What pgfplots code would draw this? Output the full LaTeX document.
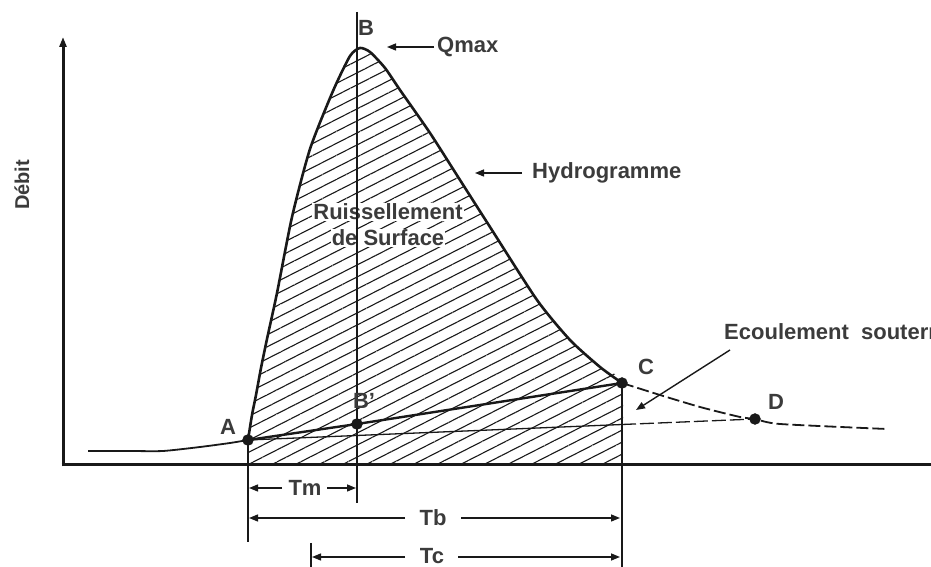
\documentclass[border=0pt]{standalone}
\usepackage{fontspec}
\setmainfont{Liberation Sans}
\usepackage{pgfplots}
\pgfplotsset{compat=1.18}
\usetikzlibrary{arrows.meta,patterns.meta}
\definecolor{ink}{RGB}{25,25,25}
\tikzset{
  lbl/.style={font=\fontsize{22}{26}\selectfont\bfseries, text=ink!85, inner sep=0pt},
  dim/.style={line width=1.4pt, draw=ink, -{Triangle[length=9pt,width=7pt]}},
}

\begin{document}
\begin{tikzpicture}
\begin{axis}[
  x=1pt, y=1pt,
  xmin=0, xmax=931, ymin=0, ymax=567,
  hide axis, clip=false,
]
\coordinate (bl) at (axis cs:0,0);
\coordinate (tr) at (axis cs:931,567);

% surface runoff (hatched)
\addplot[draw=none, smooth, tension=0.4,
  pattern={Lines[angle=27,distance=10.7pt,line width=1.1pt]}, pattern color=ink]
  coordinates {(248,102)(248,127)(252,152)(256,172)(261,199)(267,228)(277,274)(292,350)(310,418)(333,476)(350,511)(360,519)
               (370,515)(385,499)(400,477)(430,434)(460,387)(490,340)(537,267)(570,227)(600,200)(622,184)(622,102)} --cycle;

% hydrograph, solid part
\addplot[ink, line width=2.6pt, smooth, tension=0.4]
  coordinates {(248,127)(252,152)(256,172)(261,199)(267,228)(277,274)(292,350)(310,418)(333,476)(350,511)(360,519)
               (370,515)(385,499)(400,477)(430,434)(460,387)(490,340)(537,267)(570,227)(600,200)(622,184)};
% rising from base flow
\addplot[ink, line width=1.8pt, smooth, tension=0.4]
  coordinates {(88,116)(130,116)(163,116)(200,120)(230,124)(248,127)};
% recession, dashed
\addplot[ink, line width=1.8pt, dash pattern=on 12pt off 4pt, smooth, tension=0.4]
  coordinates {(622,184)(660,172)(700,160)(740,150)(755,148)(780,143)(887,138)};

% base flow separation A-B'-C
\addplot[ink, line width=2.4pt] coordinates {(248,127)(357,143)(622,184)};
% A-D line
\addplot[ink, line width=1.3pt] coordinates {(248,127)(622,142.5)};
\addplot[ink, line width=1.3pt, dash pattern=on 14pt off 4pt] coordinates {(622,142.5)(755,148)};

% points A, B', C, D
\addplot[only marks, mark=*, mark size=5.5pt, color=ink] coordinates {(248,127)(357,143)(622,184)(755,148)};

% axes
\draw[ink, line width=3pt, -{Triangle[length=10pt,width=7pt]}] (axis cs:63,100.5) -- (axis cs:63,530);
\draw[ink, line width=3pt] (axis cs:61.5,102) -- (axis cs:945,102);

% vertical guides
\draw[ink, line width=2pt] (axis cs:248,127) -- (axis cs:248,25);
\draw[ink, line width=1.4pt] (axis cs:357,555) -- (axis cs:357,64);
\draw[ink, line width=2.6pt] (axis cs:622,184) -- (axis cs:622,-5);
\draw[ink, line width=2pt] (axis cs:311,24) -- (axis cs:311,-5);

% time spans
\draw[dim] (axis cs:282,79) -- (axis cs:249,79);
\draw[dim] (axis cs:327,79) -- (axis cs:356,79);
\node[lbl] at (axis cs:305,79) {Tm};
\draw[dim] (axis cs:405,49) -- (axis cs:249,49);
\draw[dim] (axis cs:461,49) -- (axis cs:620,49);
\node[lbl] at (axis cs:433,49) {Tb};
\draw[dim] (axis cs:405,10) -- (axis cs:312,10);
\draw[dim] (axis cs:458,10) -- (axis cs:620,10);
\node[lbl] at (axis cs:432,11) {Tc};

% labels
\node[lbl] at (axis cs:366,539) {B};
\node[lbl] at (axis cs:228,140) {A};
\node[lbl] at (axis cs:364,166) {B'};
\node[lbl] at (axis cs:646,200) {C};
\node[lbl] at (axis cs:776,165) {D};
\node[lbl, anchor=west] at (axis cs:437,520) {Qmax};
\draw[dim] (axis cs:434,520) -- (axis cs:387,520);
\node[lbl, anchor=west] at (axis cs:532,394) {Hydrogramme};
\draw[dim] (axis cs:522,394) -- (axis cs:475,394);
\node[lbl, fill=white, inner sep=1pt] at (axis cs:388,355) {Ruissellement};
\node[lbl, fill=white, inner sep=1pt] at (axis cs:388,329) {de Surface};
\draw[ink, line width=1.4pt] (axis cs:357,366) -- (axis cs:357,318);
\node[lbl, anchor=west] at (axis cs:724,235) {Ecoulement\ \ souterrain};
\draw[dim] (axis cs:730,217) -- (axis cs:636,157);
\node[lbl, rotate=90, font=\fontsize{20}{24}\selectfont\bfseries] at (axis cs:22,382) {Débit};
\end{axis}
\pgfresetboundingbox
\useasboundingbox (bl) rectangle (tr);
\end{tikzpicture}
\end{document}
